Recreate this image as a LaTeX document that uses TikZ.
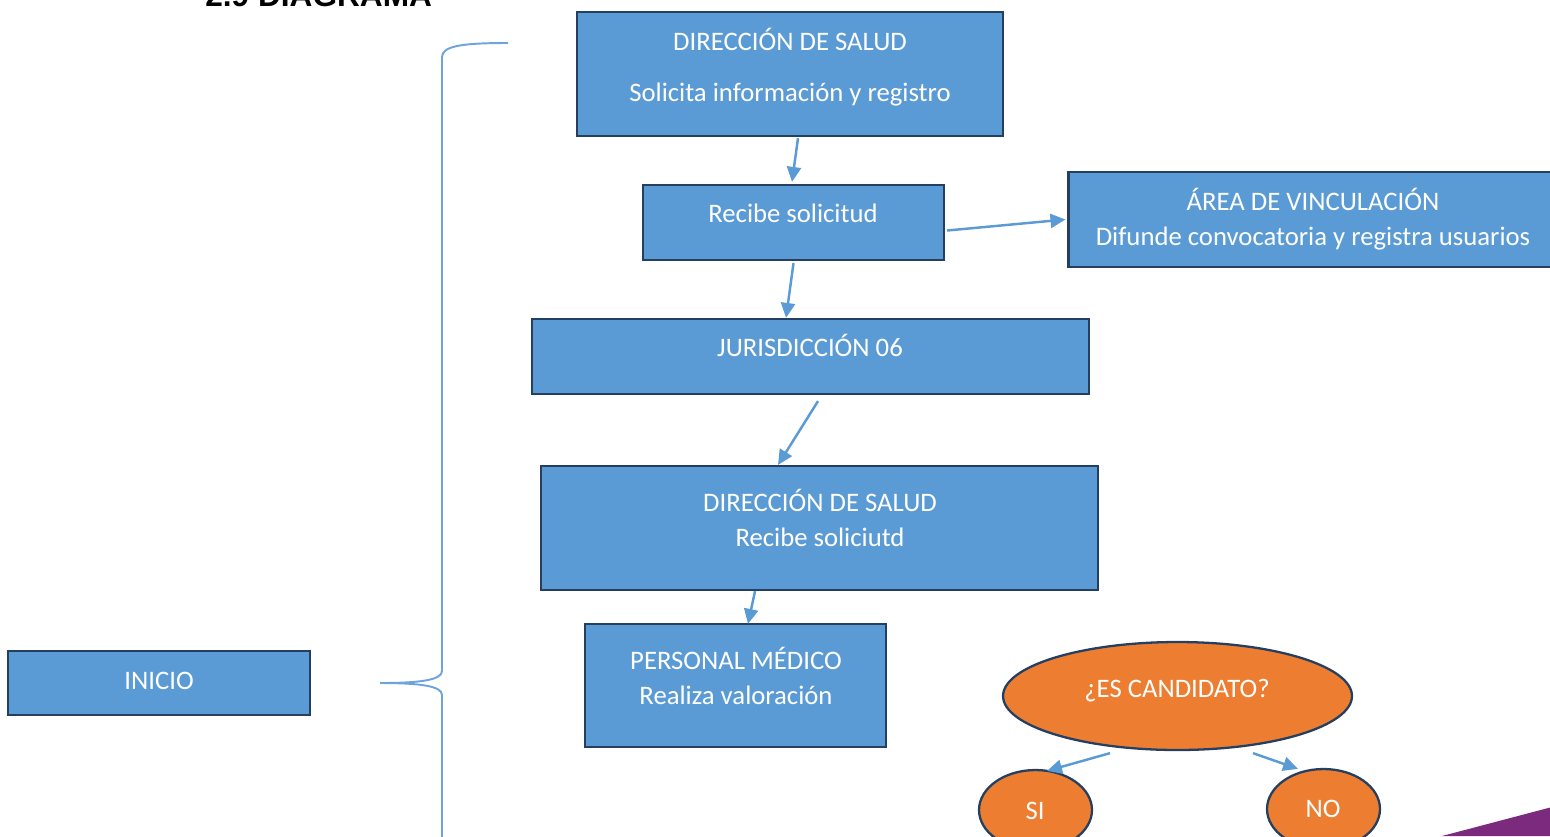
\documentclass[tikz,border=0pt]{standalone}
\usepackage{fontspec}
\setmainfont{Carlito}
\newfontfamily\titlefont{Liberation Sans}
\usetikzlibrary{shapes.geometric,arrows.meta,calc}
\definecolor{boxblue}{HTML}{5B9BD5}
\definecolor{boxline}{HTML}{243F60}
\definecolor{candorange}{HTML}{ED7D31}
\definecolor{bracecol}{HTML}{6FA3DC}
\definecolor{cornerpurple}{HTML}{7B2A7E}
\begin{document}
\begin{tikzpicture}[x=0.02cm,y=-0.02cm]
			\tikzstyle{box}=[draw=boxline,line width=1.3pt,fill=boxblue,inner sep=0pt]
			\tikzstyle{oval}=[ellipse,draw=boxline,line width=1.3pt,fill=candorange,inner sep=0pt]
			\tikzstyle{txt}=[text=white,font=\fontsize{15.2}{17}\selectfont,anchor=base,inner sep=0pt]
			\tikzstyle{flow}=[draw=boxblue,line width=1.4pt,-{Triangle[length=8.5pt,width=8pt]}]
			\useasboundingbox (0,0) rectangle (1550,836);
			\node [anchor=base west,inner sep=0pt,font=\titlefont\bfseries\fontsize{18}{20}\selectfont] (title) at (205,6) {2.9 DIAGRAMA};
			\node [box,minimum width=8.52cm,minimum height=2.48cm] (dirA) at (790,74) {};
			\node [txt] at (790,50) {DIRECCIÓN DE SALUD};
			\node [txt] at (790,101) {Solicita información y registro};
			\node [box,minimum width=6.02cm,minimum height=1.5cm] (recibe) at (793.5,222.5) {};
			\node [txt] at (793,222) {Recibe solicitud};
			\node [box,minimum width=9.8cm,minimum height=1.9cm] (area) at (1313.5,219.5) {};
			\node [txt] at (1313,210) {ÁREA DE VINCULACIÓN};
			\node [txt] at (1313,245) {Difunde convocatoria y registra usuarios};
			\node [box,minimum width=11.14cm,minimum height=1.5cm] (juris) at (810.5,356.5) {};
			\node [txt] at (810,356) {JURISDICCIÓN 06};
			\node [box,minimum width=11.14cm,minimum height=2.48cm] (dirB) at (819.5,528) {};
			\node [txt] at (820,511) {DIRECCIÓN DE SALUD};
			\node [txt] at (820,546) {Recibe soliciutd};
			\node [box,minimum width=6.02cm,minimum height=2.46cm] (medico) at (735.5,685.5) {};
			\node [txt] at (736,669) {PERSONAL MÉDICO};
			\node [txt] at (736,704) {Realiza valoración};
			\node [box,minimum width=6.04cm,minimum height=1.28cm] (inicio) at (159,683) {};
			\node [txt] at (159,689) {INICIO};
			\node [oval,minimum width=6.98cm,minimum height=2.16cm] (cand) at (1177.5,696) {};
			\node [txt] at (1177,697) {¿ES CANDIDATO?};
			\node [oval,minimum width=2.26cm,minimum height=1.6cm] (si) at (1035.5,810) {};
			\node [txt] at (1035,819) {SI};
			\node [oval,minimum width=2.26cm,minimum height=1.6cm] (no) at (1323.5,809) {};
			\node [txt] at (1323,817) {NO};
			\draw [flow] ($(dirA.south)+(8,1)$) -- ($(recibe.north)+(-1.5,-2)$);
			\draw [flow] ($(recibe.east)+(2,8)$) -- ($(area.west)+(-2,0)$);
			\draw [flow] ($(recibe.south)+(0,2)$) -- ($(juris.north)+(-24.5,0)$);
			\draw [flow] ($(juris.south)+(7.5,6)$) -- ($(dirB.north)+(-41.5,0)$);
			\draw [flow] ($(dirB.south)+(-64.5,0)$) -- ($(medico.north)+(12.5,1)$);
			\draw [flow] ($(cand.south)+(-67.5,2)$) -- ($(si.north)+(11.5,2)$);
			\draw [flow] ($(cand.south)+(75.5,2)$) -- ($(no.north)+(-25.5,1)$);
			\draw [bracecol,line width=1.1pt] (508,43) .. controls (462,43) and (442,46) .. (442,57) -- (442,671) .. controls (442,680) and (420,683) .. (380,683);
			\draw [bracecol,line width=1.1pt] (380,683) .. controls (420,683) and (442,686) .. (442,695) -- (442,840);
			\fill [cornerpurple] (1442,836) -- (1552,807) -- (1552,836) -- cycle;
\end{tikzpicture}
\end{document}
